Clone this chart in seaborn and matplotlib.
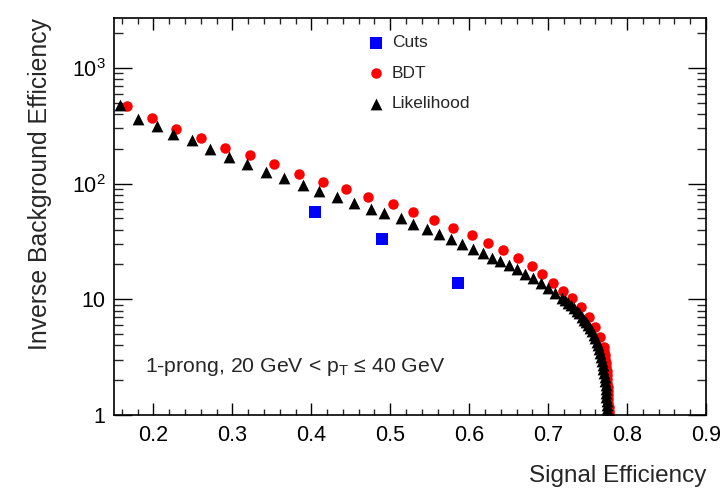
import matplotlib
matplotlib.use("Agg")
import matplotlib.pyplot as plt
from matplotlib.ticker import MultipleLocator, FixedLocator, FixedFormatter, LogLocator, NullFormatter
import pandas as pd
import seaborn as sns

# Signal efficiency vs inverse background efficiency (1-prong taus)
cuts_eff = [0.405, 0.490, 0.586]
cuts_rej = [56.8, 33.3, 13.9]

bdt_eff = [0.166, 0.198, 0.229, 0.260, 0.290, 0.322, 0.353, 0.384, 0.415, 0.444,
           0.472, 0.503, 0.529, 0.556, 0.580, 0.603, 0.624, 0.643, 0.662, 0.679,
           0.692, 0.706, 0.719, 0.730, 0.742, 0.752, 0.760, 0.766,
           0.7705, 0.7713, 0.7720, 0.7726, 0.7731, 0.7736, 0.7740, 0.7744, 0.7749,
           0.7752, 0.7755, 0.7758, 0.7760, 0.7762, 0.7764, 0.7765, 0.7766, 0.7766]
bdt_rej = [472, 372, 299, 246, 202, 176, 147, 120, 103, 89.5,
           76.4, 66.5, 56.8, 48.5, 41.4, 36.0, 30.7, 26.8, 22.8, 19.5,
           16.6, 13.9, 11.9, 10.3, 8.65, 7.10, 5.71, 4.69,
           3.84, 3.55, 3.28, 3.03, 2.80, 2.59, 2.39, 2.21, 2.04,
           1.88, 1.74, 1.61, 1.49, 1.37, 1.27, 1.17, 1.08, 1.02]

lh_eff = [0.157, 0.180, 0.204, 0.225, 0.249, 0.272, 0.296, 0.318, 0.342, 0.366,
          0.389, 0.410, 0.433, 0.454, 0.475, 0.492, 0.513, 0.529, 0.547, 0.562,
          0.577, 0.591, 0.605, 0.618, 0.629, 0.639, 0.651, 0.661, 0.671, 0.681,
          0.691, 0.700, 0.709, 0.718, 0.7215, 0.725, 0.7291, 0.733, 0.7361, 0.739,
          0.7424, 0.746, 0.7481, 0.751, 0.7532, 0.756, 0.7576, 0.7595, 0.7614,
          0.7633, 0.7648, 0.7662, 0.7673, 0.7684, 0.7694, 0.7701, 0.7709,
          0.7715, 0.7722, 0.7727, 0.7732, 0.7735, 0.7739, 0.7742, 0.7744, 0.7747,
          0.7748]
lh_rej = [482, 365, 312, 266, 236, 198, 169, 147, 125, 111,
          96.9, 86.1, 76.4, 67.8, 60.2, 55.6, 50.4, 44.8, 40.5, 36.7,
          33.3, 30.1, 27.3, 25.2, 22.8, 21.5, 19.9, 18.4, 16.6, 15.4,
          13.9, 12.6, 11.4, 10.3, 9.84, 9.37, 8.92, 8.49, 8.00, 7.54,
          7.10, 6.69, 6.31, 5.94, 5.60, 5.28, 4.92, 4.59, 4.29,
          4.00, 3.69, 3.41, 3.15, 2.91, 2.69, 2.49, 2.30,
          2.12, 1.96, 1.81, 1.67, 1.55, 1.43, 1.32, 1.22, 1.13,
          1.04]

ytick_values = [1, 10, 100, 1000]
ytick_labels = ["1", "10", r"$\mathregular{10^{2}}$", r"$\mathregular{10^{3}}$"]

sns.set_style("ticks")
plt.rcParams["font.family"] = ["Liberation Sans", "DejaVu Sans"]
plt.rcParams["mathtext.fontset"] = "custom"
plt.rcParams["mathtext.rm"] = "Liberation Sans"
plt.rcParams["mathtext.it"] = "Liberation Sans:italic"

fig = plt.figure(figsize=(7.22, 4.92), dpi=100)
ax = fig.add_axes([114 / 722, 1 - 415 / 492, 592 / 722, 397 / 492])

cuts = pd.DataFrame({"eff": cuts_eff, "rej": cuts_rej})
bdt = pd.DataFrame({"eff": bdt_eff, "rej": bdt_rej})
lh = pd.DataFrame({"eff": lh_eff, "rej": lh_rej})

sns.scatterplot(data=cuts, x="eff", y="rej", ax=ax, marker="s", s=63,
                color="#0000ff", linewidth=0, label="Cuts")
sns.scatterplot(data=bdt, x="eff", y="rej", ax=ax, marker="o", s=57,
                color="#ff0000", linewidth=0, label="BDT")
sns.scatterplot(data=lh, x="eff", y="rej", ax=ax, marker="^", s=72,
                color="black", linewidth=0, label="Likelihood")

ax.set_yscale("log")
ax.set_xlim(0.15, 0.9)
ax.set_ylim(1, 2700)

ax.xaxis.set_major_locator(MultipleLocator(0.1))
ax.xaxis.set_minor_locator(MultipleLocator(0.02))
ax.yaxis.set_major_locator(FixedLocator(ytick_values))
ax.yaxis.set_major_formatter(FixedFormatter(ytick_labels))
ax.yaxis.set_minor_locator(LogLocator(base=10, subs=range(2, 10)))
ax.yaxis.set_minor_formatter(NullFormatter())

for side in ["left", "right", "top", "bottom"]:
    ax.spines[side].set_visible(True)
    ax.spines[side].set_linewidth(1.2)
    ax.spines[side].set_color("black")

ax.tick_params(axis="x", which="major", direction="in", length=8.6, width=1.0,
               top=True, bottom=True, labelsize=15.5, pad=7, colors="black")
ax.tick_params(axis="x", which="minor", direction="in", length=4.3, width=1.0,
               top=True, bottom=True)
ax.tick_params(axis="y", which="major", direction="in", length=12.7, width=1.0,
               left=True, right=True, labelsize=15.5, pad=6, colors="black")
ax.tick_params(axis="y", which="minor", direction="in", length=6.3, width=1.0,
               left=True, right=True)

ax.set_xlabel("Signal Efficiency", fontsize=17.5, loc="right", labelpad=14)
ax.set_ylabel("Inverse Background Efficiency", fontsize=17.8, loc="top", labelpad=14)

ax.text(0.053, 0.122, r"1-prong, 20 GeV < $\mathregular{p_{T}}$ ≤ 40 GeV",
        transform=ax.transAxes, fontsize=15.3, va="center", ha="left")

ax.legend(loc="upper left", bbox_to_anchor=(0.4285, 0.957), frameon=False,
          fontsize=12.5, handlelength=1.0, handletextpad=0.4, labelspacing=0.89,
          borderpad=0, borderaxespad=0, scatterpoints=1)

fig.savefig("out.png", dpi=100)
